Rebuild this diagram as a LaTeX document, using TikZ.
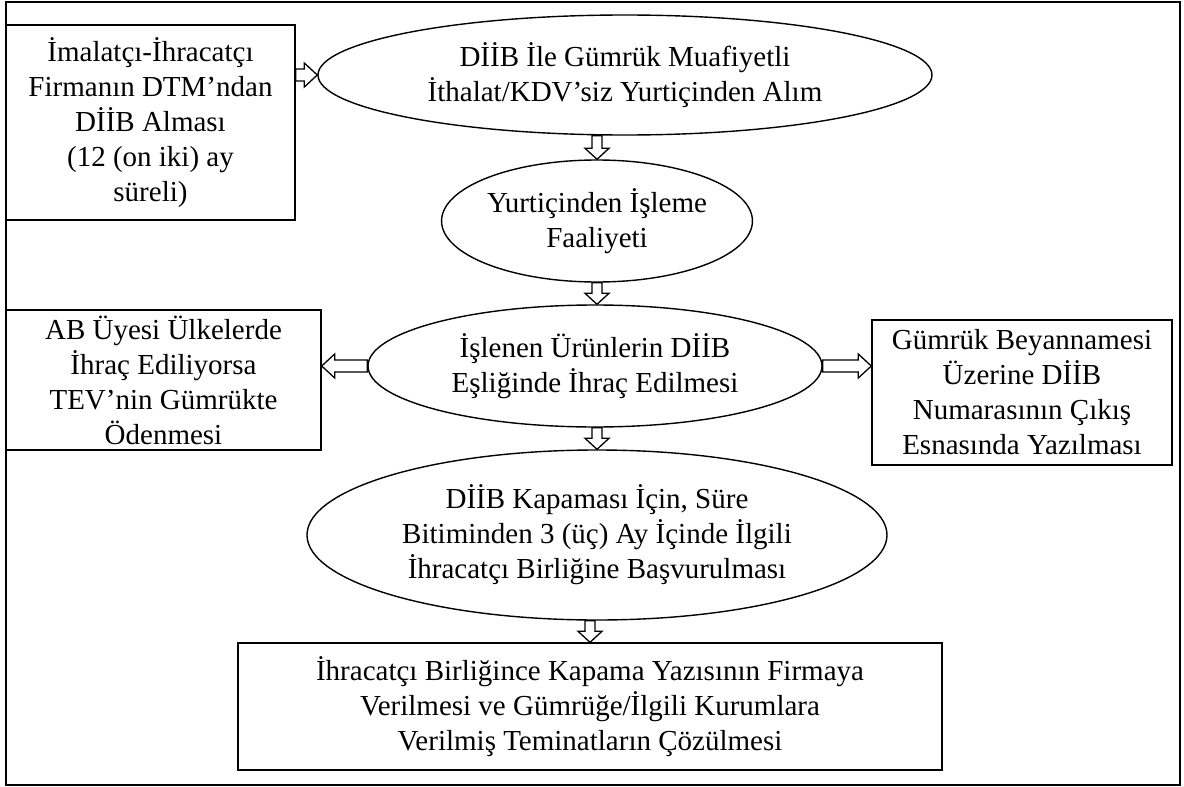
\documentclass[tikz,border=0pt]{standalone}
\usepackage{fontspec}
\setmainfont{Liberation Serif}
\usetikzlibrary{shapes.geometric,calc}

\tikzset{
  kutu/.style={draw,line width=1.4pt,align=center,inner sep=0pt},
  oval/.style={ellipse,draw,line width=1.4pt,align=center,inner sep=0pt},
  okblok/.style={draw,line width=1.3pt,fill=white,line join=miter}
}
% hollow block arrows
\newcommand\okasagi[2]{%
  \draw[okblok] let \p1=(#1), \p2=(#2) in
    (\x1-5pt,\y1)--(\x1-5pt,\y2+11pt)--(\x1-12pt,\y2+11pt)--(\x1,\y2)
    --(\x1+12pt,\y2+11pt)--(\x1+5pt,\y2+11pt)--(\x1+5pt,\y1)--cycle;}
\newcommand\oksaga[2]{%
  \draw[okblok] let \p1=(#1), \p2=(#2) in
    (\x1,\y1-6pt)--(\x2-13pt,\y1-6pt)--(\x2-13pt,\y1-12pt)--(\x2,\y1)
    --(\x2-13pt,\y1+12pt)--(\x2-13pt,\y1+6pt)--(\x1,\y1+6pt)--cycle;}
\newcommand\oksola[2]{%
  \draw[okblok] let \p1=(#1), \p2=(#2) in
    (\x1,\y1-6pt)--(\x2+13pt,\y1-6pt)--(\x2+13pt,\y1-12pt)--(\x2,\y1)
    --(\x2+13pt,\y1+12pt)--(\x2+13pt,\y1+6pt)--(\x1,\y1+6pt)--cycle;}

\begin{document}
\begin{tikzpicture}[x=1pt,y=1pt,font=\fontsize{29}{35}\selectfont]
\useasboundingbox (0,0) rectangle (1184,-787);
\draw[line width=1.4pt] (6,-2) rectangle (1180,-785);

\node[kutu,minimum width=289,minimum height=195] (imalat) at (150.5,-122.5)
  {İmalatçı-İhracatçı\\Firmanın DTM’ndan\\DİİB Alması\\(12 (on iki) ay\\süreli)};
\node[oval,minimum width=614,minimum height=120] (muaf) at (625,-75)
  {DİİB İle Gümrük Muafiyetli\\İthalat/KDV’siz Yurtiçinden Alım};
\node[oval,minimum width=280,minimum height=122] (isleme) at (597,-221)
  {Yurtiçinden İşleme\\Faaliyeti};
\node[oval,minimum width=454,minimum height=122] (ihrac) at (595,-366)
  {İşlenen Ürünlerin DİİB\\Eşliğinde İhraç Edilmesi};
\node[kutu,minimum width=315,minimum height=140] (tev) at (163.5,-380)
  {AB Üyesi Ülkelerde\\İhraç Ediliyorsa\\TEV’nin Gümrükte\\Ödenmesi};
\node[kutu,minimum width=300,minimum height=145] (beyan) at (1022,-392.5)
  {Gümrük Beyannamesi\\Üzerine DİİB\\Numarasının Çıkış\\Esnasında Yazılması};
\node[oval,minimum width=580,minimum height=170] (kapama) at (597,-535)
  {DİİB Kapaması İçin, Süre\\Bitiminden 3 (üç) Ay İçinde İlgili\\İhracatçı Birliğine Başvurulması};
\node[kutu,minimum width=704,minimum height=127] (cozum) at (590,-706.5)
  {İhracatçı Birliğince Kapama Yazısının Firmaya\\Verilmesi ve Gümrüğe/İlgili Kurumlara\\Verilmiş Teminatların Çözülmesi};

\oksaga{imalat.east |- muaf.west}{muaf.west}
\okasagi{muaf.south -| isleme.north}{isleme.north}
\okasagi{isleme.south}{ihrac.north}
\oksola{ihrac.west}{tev.east |- ihrac.west}
\oksaga{ihrac.east}{beyan.west |- ihrac.east}
\okasagi{ihrac.south -| kapama.north}{kapama.north}
\okasagi{kapama.south -| cozum.north}{cozum.north}
\end{tikzpicture}
\end{document}
